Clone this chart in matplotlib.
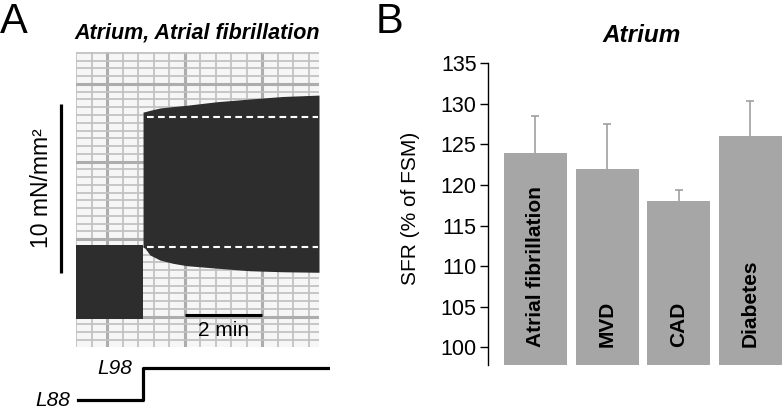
import numpy as np
import matplotlib
matplotlib.use("Agg")
import matplotlib.pyplot as plt

plt.rcParams['font.family'] = ['Liberation Sans', 'DejaVu Sans']

# Panel A: force trace (time in min, force in mN/mm2)
low_t = [-0.8, 0.93]
low_top = [4.23, 4.23]
low_bottom = [-0.17, -0.17]

high_t = [0.93, 0.98, 1.11, 1.37, 1.70, 2.06, 2.84, 3.69, 4.54, 5.47]
high_top = [12.10, 12.12, 12.20, 12.34, 12.42, 12.50, 12.71, 12.87, 13.02, 13.10]
high_bottom = [4.11, 4.04, 3.64, 3.34, 3.15, 3.01, 2.86, 2.71, 2.65, 2.62]

ref_levels = [11.82, 4.09]
ref_t = [1.02, 5.45]

# sarcomere length protocol
proto_t = [-0.75, 0.93, 5.70]
proto_len = [88, 98, 98]
proto_labels = ['L88', 'L98']

# Panel B: SFR per group
groups = ['Atrial fibrillation', 'MVD', 'CAD', 'Diabetes']
sfr = [124, 122, 118, 126]
sfr_err = [4.5, 5.5, 1.4, 4.35]

W, H = 782, 412
fig = plt.figure(figsize=(W / 100, H / 100), dpi=100)


def px_axes(x0, y0, x1, y1):
    return fig.add_axes([x0 / W, 1 - y1 / H, (x1 - x0) / W, (y1 - y0) / H])


# ---- Panel A ----
ax = px_axes(76, 52, 319, 347)
ax.set_xlim(-0.8, 5.47)
ax.set_ylim(-1.80, 15.65)
ax.set_facecolor('#f6f6f6')
ax.set_xticks([0, 2, 4])
ax.set_xticks(np.arange(-0.8, 5.47, 0.4), minor=True)
ax.set_yticks(np.arange(0, 15.6, 4.586))
ax.set_yticks(np.arange(-3, 35) * 0.4586, minor=True)
ax.grid(which='minor', color='#c2c2c2', lw=1.3)
ax.grid(which='major', color='#adadad', lw=2.2)
ax.tick_params(which='both', length=0, labelbottom=False, labelleft=False)
for s in ax.spines.values():
    s.set_visible(False)
ax.set_axisbelow(True)

ax.fill_between(low_t, low_bottom, low_top, color='#2d2d2d', lw=0)
ax.fill_between(high_t, high_bottom, high_top, color='#2d2d2d', lw=0)
for lev in ref_levels:
    ax.plot(ref_t, [lev, lev], color='white', lw=1.5, dashes=(3.2, 2.1))

# scale bars
ax.plot([-1.19, -1.19], [2.57, 12.57], color='black', lw=2.3, clip_on=False,
        solid_capstyle='butt')
ax.text(-1.68, 7.6, '10 mN/mm²', rotation=90, ha='center', va='center',
        fontsize=16.5)
ax.plot([2.0, 4.0], [0.11, 0.11], color='black', lw=2.2, solid_capstyle='butt')
ax.text(3.0, -0.85, '2 min', ha='center', va='center', fontsize=15)

ax.set_title('Atrium, Atrial fibrillation', fontsize=15.5, fontweight='bold',
             style='italic', pad=10)

# protocol
axp = px_axes(76, 360, 330, 408)
axp.set_xlim(-0.8, 5.755)
axp.set_ylim(85.5, 100.5)
axp.plot(proto_t, proto_len, drawstyle='steps-post', color='black', lw=2.3)
axp.text(-0.955, 88, proto_labels[0], ha='right', va='center', fontsize=15,
         style='italic')
axp.text(0.645, 98, proto_labels[1], ha='right', va='center', fontsize=15,
         style='italic')
axp.axis('off')

# ---- Panel B ----
bx = px_axes(487.7, 63.3, 782, 365)
x = np.arange(len(groups))
bx.bar(x, sfr, width=0.875, color='#a6a6a6', bottom=0, zorder=2)
# errorbars under the bars, upper half only
eb = bx.errorbar(x, sfr, yerr=[[0] * len(groups), sfr_err], fmt='none',
                 ecolor='#a0a0a0', elinewidth=1.2, capsize=3, capthick=1.2,
                 zorder=1)
for cap in eb[1]:
    if np.allclose(cap.get_ydata(), sfr):
        cap.set_visible(False)
bx.set_ylim(97.82, 135)
bx.set_xlim(-0.667, 3.44)
bx.set_yticks(range(100, 136, 5))
bx.set_xticks([])
for s in ['top', 'right', 'bottom']:
    bx.spines[s].set_visible(False)
bx.spines['left'].set_linewidth(1.0)
bx.tick_params(axis='y', length=5.5, width=1.0, pad=2.5, labelsize=15.5)
for xi, g in zip(x, groups):
    bx.text(xi, 100, g, rotation=90, ha='center', va='bottom',
            fontsize=15, fontweight='bold', zorder=3)

fig.text(410 / W, 1 - 208 / H, 'SFR (% of FSM)', rotation=90, ha='center',
         va='center', fontsize=15)
fig.text(642 / W, 1 - 36 / H, 'Atrium', ha='center', va='center', fontsize=17.5,
         fontweight='bold', style='italic')

fig.text(0 / W, 1 - 22 / H, 'A', ha='left', va='center', fontsize=30)
fig.text(376 / W, 1 - 22 / H, 'B', ha='left', va='center', fontsize=30)

fig.savefig('out.png', dpi=100)
